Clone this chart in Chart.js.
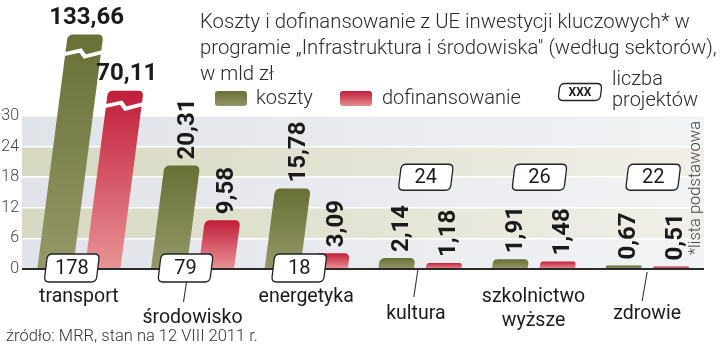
<!DOCTYPE html>
<html>
<head>
<meta charset="utf-8">
<script src="https://cdn.jsdelivr.net/npm/chart.js@4/dist/chart.umd.min.js"></script>
<style>
  html, body { margin: 0; padding: 0; background: #fff; }
  #wrap { width: 720px; height: 346px; }
</style>
</head>
<body>
<div id="wrap"><canvas id="chart" width="720" height="346"></canvas></div>
<script>
// dane: koszty i dofinansowanie z UE, w mld zł
const categories = ['transport', 'środowisko', 'energetyka', 'kultura', ['szkolnictwo', 'wyższe'], 'zdrowie'];
const koszty = [133.66, 20.31, 15.78, 2.14, 1.91, 0.67];
const dofinansowanie = [70.11, 9.58, 3.09, 1.18, 1.48, 0.51];
const projekty = [178, 79, 18, 24, 26, 22];
const yTicks = [0, 6, 12, 18, 24, 30];

const titleLines = [
  'Koszty i dofinansowanie z UE inwestycji kluczowych* w',
  'programie \u201eInfrastruktura i środowiska" (według sektorów),',
  'w mld zł'
];
const sourceText = 'źródło: MRR, stan na 12 VIII 2011 r.';
const footnote = '*lista podstawowa';

// wygląd
const SKEW = 0.13;          // pochylenie słupków
const CUT_KOSZTY = 46;      // wysokość przerwanego słupka (koszty transport)
const CUT_DOFIN = 35;       // wysokość przerwanego słupka (dofinansowanie transport)
const GREEN = ['#687035', '#959869'];
const RED = ['#c21d3b', '#e89494'];
const LABEL_Y = [297, 318, 297, 314, 297, 314];

function fmt(v) {
  return v.toFixed(2).replace('.', ',');
}

function barFill(colors) {
  return ctx => {
    const chart = ctx.chart;
    if (!chart.chartArea || ctx.raw == null) return colors[0];
    const y = chart.scales.y;
    const g = chart.ctx.createLinearGradient(0, y.getPixelForValue(ctx.raw), 0, y.getPixelForValue(0));
    g.addColorStop(0, colors[0]);
    g.addColorStop(1, colors[1]);
    return g;
  };
}

function roundRect(c, x, y, w, h, r) {
  c.beginPath();
  c.moveTo(x + r, y);
  c.lineTo(x + w - r, y);
  c.quadraticCurveTo(x + w, y, x + w, y + r);
  c.lineTo(x + w, y + h - r);
  c.quadraticCurveTo(x + w, y + h, x + w - r, y + h);
  c.lineTo(x + r, y + h);
  c.quadraticCurveTo(x, y + h, x, y + h - r);
  c.lineTo(x, y + r);
  c.quadraticCurveTo(x, y, x + r, y);
  c.closePath();
}

// pochylona ramka z liczbą projektów
function countBox(c, cx, cy, w, h, text, font) {
  c.save();
  c.translate(cx, cy);
  c.transform(1, 0, -0.12, 1, 0, 0);
  roundRect(c, -w / 2, -h / 2, w, h, 5);
  c.fillStyle = '#fff';
  c.fill();
  c.lineWidth = 1.3;
  c.strokeStyle = '#222';
  c.stroke();
  c.restore();
  c.fillStyle = '#1a1a1a';
  c.font = font;
  c.textAlign = 'center';
  c.textBaseline = 'middle';
  c.fillText(text, cx, cy + 1);
}

const decor = {
  id: 'decor',
  beforeDraw(chart) {
    const c = chart.ctx, a = chart.chartArea, y = chart.scales.y;
    for (let i = 0; i < yTicks.length - 1; i++) {
      const y0 = y.getPixelForValue(yTicks[i]);
      const y1 = y.getPixelForValue(yTicks[i + 1]);
      const g = c.createLinearGradient(a.left, 0, a.right, 0);
      if (i % 2 === 0) {
        g.addColorStop(0, '#e1e3ea');
        g.addColorStop(1, '#f2f3f5');
      } else {
        g.addColorStop(0, '#d7d8c1');
        g.addColorStop(1, '#f0f0e9');
      }
      c.fillStyle = g;
      c.fillRect(a.left, y1, a.right - a.left, y0 - y1);
    }
  },
  beforeDatasetsDraw(chart) {
    const c = chart.ctx;
    const base = chart.scales.y.getPixelForValue(0);
    c.save();
    c.transform(1, 0, -SKEW, 1, SKEW * base, 0);
  },
  afterDatasetsDraw(chart) {
    const c = chart.ctx;
    // przerwy w słupkach transportu
    [[0, 18], [1, 14]].forEach(([d, off]) => {
      const el = chart.getDatasetMeta(d).data[0];
      const L = el.x - el.width / 2, R = el.x + el.width / 2, yy = el.y + off;
      c.beginPath();
      c.moveTo(L - 3, yy + 2);
      c.lineTo(el.x - 3, yy - 2);
      c.lineTo(el.x + 2, yy + 4);
      c.lineTo(R + 3, yy - 1);
      c.lineWidth = 4;
      c.strokeStyle = '#fff';
      c.stroke();
    });
    c.restore();
  },
  afterDraw(chart) {
    const c = chart.ctx, x = chart.scales.x, y = chart.scales.y;
    const base = y.getPixelForValue(0);
    c.save();

    // wartości nad słupkami
    [koszty, dofinansowanie].forEach((vals, d) => {
      const meta = chart.getDatasetMeta(d);
      vals.forEach((v, i) => {
        const el = meta.data[i];
        const topX = el.x + SKEW * (base - el.y);
        c.fillStyle = '#1a1a1a';
        c.font = 'bold 24px Roboto';
        if (i === 0) {
          c.textAlign = 'center';
          c.textBaseline = 'middle';
          c.fillText(fmt(v), topX + 1, el.y - 17);
        } else {
          const len = c.measureText(fmt(v)).width;
          const cx = topX + SKEW * (6 + len / 2);
          c.save();
          c.translate(cx, el.y - 6);
          c.rotate(-Math.PI / 2);
          c.textAlign = 'left';
          c.textBaseline = 'middle';
          c.fillText(fmt(v), 0, 1);
          c.restore();
        }
      });
    });

    // ramki z liczbą projektów
    projekty.forEach((n, i) => {
      const cx = x.getPixelForValue(i);
      if (i < 3) countBox(c, cx - 7, base - 1, 52, 28, String(n), '20px Roboto');
      else countBox(c, cx + 6, y.getPixelForValue(18), 52, 26, String(n), '20px Roboto');
    });

    // kreski prowadzące do podpisów
    c.strokeStyle = '#333';
    c.lineWidth = 1.1;
    [[1, 282, 302, -6, -9], [3, 270, 297, -2, -6], [5, 272, 301, 0, -5]].forEach(([i, t, b, dx0, dx1]) => {
      const cx = x.getPixelForValue(i);
      c.beginPath();
      c.moveTo(cx + dx0, t);
      c.lineTo(cx + dx1, b);
      c.stroke();
    });

    // podpisy kategorii
    c.fillStyle = '#1a1a1a';
    c.font = '19.5px Roboto';
    c.textAlign = 'center';
    c.textBaseline = 'middle';
    categories.forEach((lab, i) => {
      const cx = x.getPixelForValue(i) - (i === 3 ? 4 : 0);
      const lines = Array.isArray(lab) ? lab : [lab];
      lines.forEach((ln, k) => c.fillText(ln, cx, LABEL_Y[i] + k * 24));
    });

    // tytuł
    c.textAlign = 'left';
    c.textBaseline = 'alphabetic';
    c.fillStyle = '#2a2a2a';
    c.font = '300 20.3px Roboto';
    titleLines.forEach((t, k) => c.fillText(t, 200, 28 + k * 26));

    // legenda
    const sw = (x0, col) => {
      const g = c.createLinearGradient(0, 91, 0, 107);
      g.addColorStop(0, col[0]);
      g.addColorStop(1, col[1]);
      c.fillStyle = g;
      roundRect(c, x0, 91, 32, 15, 3);
      c.fill();
    };
    sw(215, GREEN);
    sw(340, RED);
    c.fillStyle = '#2a2a2a';
    c.font = '300 20px Roboto';
    c.textBaseline = 'middle';
    c.fillText('koszty', 256, 99);
    c.fillText('dofinansowanie', 382, 99);
    c.fillText('liczba', 612, 80);
    c.fillText('projektów', 612, 101);
    countBox(c, 580, 92, 42, 17, 'XXX', 'bold 12px Roboto');

    // źródło
    c.textAlign = 'left';
    c.textBaseline = 'middle';
    c.fillStyle = '#333';
    c.font = '300 16.5px Roboto';
    c.fillText(sourceText, 6, 337);

    // przypis pionowy
    c.save();
    c.translate(696, 255);
    c.rotate(-Math.PI / 2);
    c.font = '300 16.5px Roboto';
    c.fillStyle = '#444';
    c.textBaseline = 'middle';
    c.fillText(footnote, 0, 0);
    c.restore();

    c.restore();
  }
};

new Chart(document.getElementById('chart'), {
  type: 'bar',
  data: {
    labels: categories,
    datasets: [
      {
        label: 'koszty',
        data: koszty.map(v => Math.min(v, CUT_KOSZTY)),
        backgroundColor: barFill(GREEN),
        borderRadius: 5,
        borderSkipped: 'start',
        categoryPercentage: 0.835,
        barPercentage: 0.75
      },
      {
        label: 'dofinansowanie',
        data: dofinansowanie.map(v => Math.min(v, CUT_DOFIN)),
        backgroundColor: barFill(RED),
        borderRadius: 5,
        borderSkipped: 'start',
        categoryPercentage: 0.835,
        barPercentage: 0.75
      }
    ]
  },
  options: {
    responsive: false,
    animation: false,
    layout: { padding: { top: 4, right: 16, bottom: 77, left: 0 } },
    plugins: {
      legend: { display: false },
      tooltip: { enabled: false }
    },
    scales: {
      x: { display: false },
      y: {
        min: 0,
        max: 52,
        z: 1,
        afterBuildTicks: s => { s.ticks = yTicks.map(v => ({ value: v })); },
        afterFit: s => { s.width = 22; s.paddingTop = 0; s.paddingBottom = 0; },
        border: { display: false },
        grid: {
          drawTicks: false,
          color: c => c.tick && c.tick.value === 0 ? '#2a2a2a' : '#ffffff',
          lineWidth: c => c.tick && c.tick.value === 0 ? 2 : 1.6
        },
        ticks: {
          padding: 3,
          color: '#444',
          font: { family: 'Roboto', size: 16, weight: '300' }
        }
      }
    }
  },
  plugins: [decor]
});
</script>
</body>
</html>
